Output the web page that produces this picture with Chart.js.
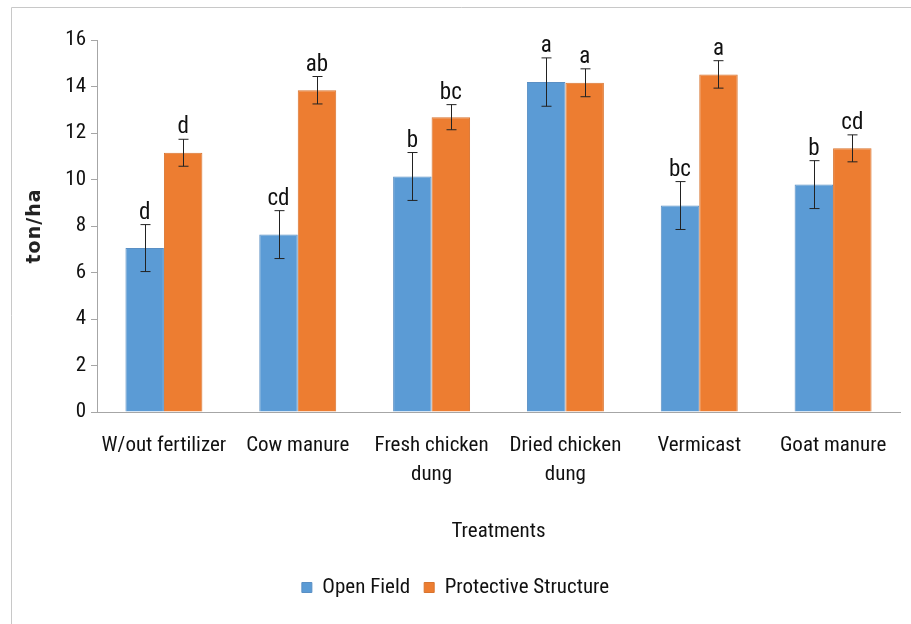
<!DOCTYPE html>
<html>
<head>
<meta charset="utf-8">
<script src="https://cdn.jsdelivr.net/npm/chart.js@4/dist/chart.umd.min.js"></script>
<style>
  body { margin: 0; background: #fff; }
  #wrap { width: 911px; height: 624px; }
</style>
</head>
<body>
<div id="wrap"><canvas id="chart"></canvas></div>
<script>
const treatments = [
  'W/out fertilizer',
  'Cow manure',
  ['Fresh chicken', 'dung'],
  ['Dried chicken', 'dung'],
  'Vermicast',
  'Goat manure'
];
const openField = [7.05, 7.63, 10.13, 14.19, 8.88, 9.78];
const openFieldErr = [1.01, 1.03, 1.03, 1.04, 1.03, 1.03];
const openFieldLetters = ['d', 'cd', 'b', 'a', 'bc', 'b'];
const protective = [11.15, 13.84, 12.68, 14.16, 14.52, 11.34];
const protectiveErr = [0.58, 0.59, 0.54, 0.6, 0.59, 0.58];
const protectiveLetters = ['d', 'ab', 'bc', 'a', 'a', 'cd'];
const yTicks = [0, 2, 4, 6, 8, 10, 12, 14, 16];
const yTitle = 'ton/ha';

const narrow = "'Roboto Condensed', Roboto, sans-serif";

// error bars, significance letters, y title and the outer frame
const extras = {
  id: 'extras',
  afterDatasetsDraw(chart) {
    const ctx = chart.ctx;
    const y = chart.scales.y;
    const errs = [openFieldErr, protectiveErr];
    const letters = [openFieldLetters, protectiveLetters];
    ctx.save();
    chart.data.datasets.forEach((ds, i) => {
      const meta = chart.getDatasetMeta(i);
      meta.data.forEach((bar, j) => {
        const v = ds.data[j];
        const top = y.getPixelForValue(v + errs[i][j]);
        const bot = y.getPixelForValue(v - errs[i][j]);
        const x = Math.round(bar.x) + 0.5;
        ctx.strokeStyle = '#222';
        ctx.lineWidth = 1;
        ctx.beginPath();
        ctx.moveTo(x, top); ctx.lineTo(x, bot);
        ctx.moveTo(x - 5, top); ctx.lineTo(x + 5, top);
        ctx.moveTo(x - 5, bot); ctx.lineTo(x + 5, bot);
        ctx.stroke();
        ctx.fillStyle = '#111';
        ctx.font = '23px ' + narrow;
        ctx.textAlign = 'center';
        ctx.textBaseline = 'alphabetic';
        ctx.fillText(letters[i][j], bar.x, top - 6);
      });
    });

    ctx.save();
    ctx.translate(35, (y.top + y.bottom) / 2);
    ctx.rotate(-Math.PI / 2);
    ctx.font = "bold 19px 'DejaVu Sans', sans-serif";
    ctx.letterSpacing = '1px';
    ctx.fillStyle = '#222';
    ctx.textAlign = 'center';
    ctx.textBaseline = 'middle';
    ctx.fillText(yTitle, 0, 0);
    ctx.restore();

    ctx.strokeStyle = '#c8c8c8';
    ctx.lineWidth = 1;
    ctx.beginPath();
    ctx.moveTo(11.5, chart.height); ctx.lineTo(11.5, 7.5); ctx.lineTo(chart.width, 7.5);
    ctx.stroke();
    ctx.restore();
  }
};

new Chart(document.getElementById('chart'), {
  type: 'bar',
  data: {
    labels: treatments,
    datasets: [{
      label: 'Open Field',
      data: openField,
      backgroundColor: '#5b9bd5',
      borderColor: '#5a8fc4',
      borderWidth: 1
    }, {
      label: 'Protective Structure',
      data: protective,
      backgroundColor: '#ed7d31',
      borderColor: '#d8742f',
      borderWidth: 1
    }]
  },
  options: {
    responsive: true,
    maintainAspectRatio: false,
    animation: false,
    categoryPercentage: 0.575,
    barPercentage: 1.0,
    layout: { padding: { left: 11, top: 40, right: 11, bottom: 16 } },
    plugins: {
      tooltip: { enabled: false },
      legend: {
        position: 'bottom',
        labels: {
          boxWidth: 10,
          boxHeight: 10,
          padding: 14,
          color: '#111',
          font: { family: narrow, size: 21 }
        }
      }
    },
    scales: {
      x: {
        grid: { display: false, drawTicks: false },
        border: { color: '#a6a6a6' },
        ticks: {
          color: '#111',
          padding: 19,
          maxRotation: 0,
          autoSkip: false,
          font: { family: narrow, size: 21, lineHeight: 1.4 }
        },
        title: {
          display: true,
          text: 'Treatments',
          color: '#111',
          padding: { top: 0, bottom: 19 },
          font: { family: narrow, size: 21 }
        },
        afterFit(scale) { scale.height = 151; }
      },
      y: {
        min: 0,
        max: 16,
        afterBuildTicks(scale) { scale.ticks = yTicks.map(v => ({ value: v })); },
        grid: { drawOnChartArea: false, drawTicks: true, tickLength: 6, color: '#a6a6a6' },
        border: { color: '#a6a6a6' },
        ticks: {
          color: '#111',
          padding: 5,
          font: { family: narrow, size: 21 }
        },
        title: { display: false },
        afterFit(scale) { scale.width = 86; }
      }
    }
  },
  plugins: [extras]
});
</script>
</body>
</html>
